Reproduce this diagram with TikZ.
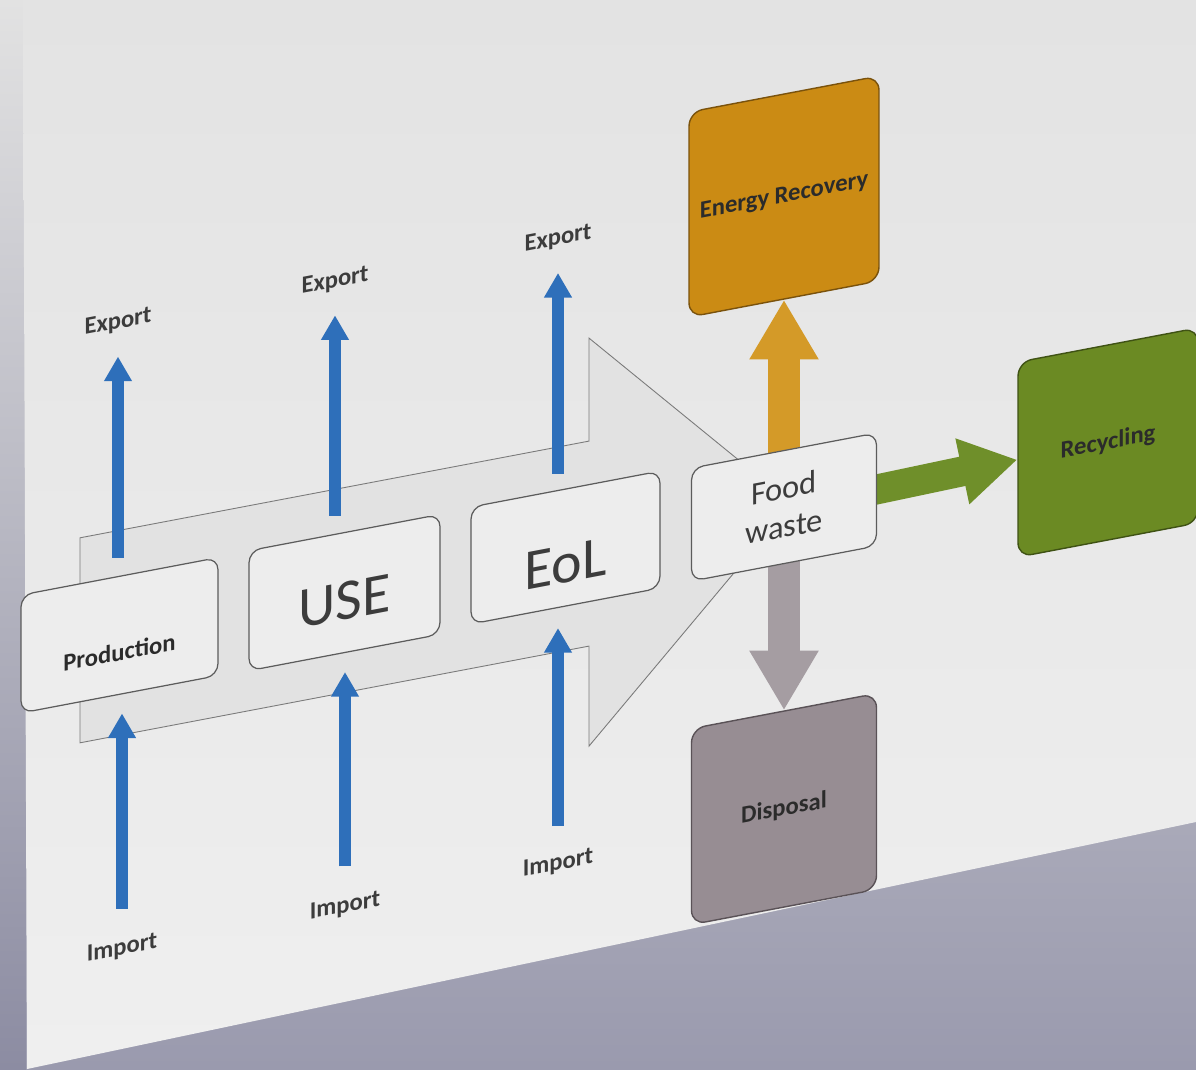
\documentclass[tikz,border=0pt]{standalone}
\usepackage{fontspec}
\setmainfont{Carlito}
\usetikzlibrary{arrows.meta}
\definecolor{bgtop}{HTML}{DCDCDC}
\definecolor{bgbot}{HTML}{9A9AAE}
\definecolor{striptop}{HTML}{E2E2E2}
\definecolor{stripmid}{HTML}{B6B6C2}
\definecolor{stripbot}{HTML}{8C8CA2}
\definecolor{slidetop}{HTML}{E3E3E3}
\definecolor{slidebot}{HTML}{EFEFEF}
\definecolor{bigfill}{HTML}{E2E2E2}
\definecolor{bigline}{HTML}{7A7A7A}
\definecolor{boxfill}{HTML}{EDEDED}
\definecolor{boxline}{HTML}{5C5C5C}
\definecolor{blueA}{HTML}{2E6FBA}
\definecolor{orangeB}{HTML}{CB8B14}
\definecolor{orangeL}{HTML}{7A520C}
\definecolor{orangeA}{HTML}{D49A28}
\definecolor{greenB}{HTML}{6B8A23}
\definecolor{greenL}{HTML}{3F5214}
\definecolor{greenA}{HTML}{6F8F2A}
\definecolor{greyB}{HTML}{978D93}
\definecolor{greyL}{HTML}{5A5257}
\definecolor{greyA}{HTML}{A59DA2}
\definecolor{txtdark}{HTML}{2B2B2B}
\definecolor{txtmid}{HTML}{3C3C3C}
\newcommand\lblfont{\fontsize{14}{16}\selectfont\bfseries}
\newcommand\bigfont{\fontsize{33}{36}\selectfont}
\pgfdeclarelayer{back}
\pgfdeclarelayer{mid}
\pgfsetlayers{back,mid,main}
\begin{document}
\begin{tikzpicture}[x=0.02cm,y=-0.02cm,
  box/.style={draw=boxline, fill=boxfill, rounded corners=0.24cm, line width=0.7pt,
    transform shape, inner sep=2pt, text=txtmid},
  cbox/.style={rounded corners=0.28cm, line width=0.8pt, transform shape,
    inner sep=2pt, font=\lblfont, text=txtdark},
  lbl/.style={transform shape, font=\lblfont, text=txtmid, inner sep=1pt},
  bluea/.style={draw=blueA, line width=6.3pt, -{Triangle[width=15pt,length=14pt]}},
  fatarr/.style={draw=#1, line width=18pt, shorten <=-0.2cm,
    -{Triangle[width=37pt,length=34pt]}}
]
\useasboundingbox (0,0) rectangle (1196,1069);
\begin{pgfonlayer}{back}
  \shade[top color=bgtop, bottom color=bgbot] (0,0) rectangle (1196,1069);
  \shade[top color=striptop, middle color=stripmid, bottom color=stripbot] (0,0) rectangle (26,1069);
  \shade[top color=slidetop, bottom color=slidebot]
    (23,0) -- (1196,0) -- (1196,822) -- (27,1069) -- cycle;
\end{pgfonlayer}
\begin{scope}[yslant=0.19]
  \begin{pgfonlayer}{back}
    \draw[fill=bigfill, draw=bigline, line width=0.5pt]
      (80,553) -- (589,553) -- (589,450) -- (792,654) -- (589,858)
      -- (589,758) -- (80,758) -- cycle;
  \end{pgfonlayer}
  % process boxes
  \node[box, minimum width=3.94cm, minimum height=2.36cm, font=\lblfont,
        text=txtdark, text height=29pt, text depth=0pt] (prod) at (119.5,658) {Production};
  \node[box, minimum width=3.82cm, minimum height=2.40cm, font=\bigfont,
        text height=31pt, text depth=0pt] (use) at (344.5,658) {USE};
  \node[box, minimum width=3.78cm, minimum height=2.34cm, font=\bigfont,
        text height=40pt, text depth=0pt] (eol) at (565.5,655) {EoL};
  \node[box, minimum width=3.70cm, minimum height=2.26cm, align=center,
        font=\fontsize{18.5}{22}\selectfont] (fw) at (784,656) {Food\\waste};
  % destination boxes
  \node[cbox, draw=orangeL, fill=orangeB, minimum width=3.80cm, minimum height=4.10cm]
        (er) at (784,345.5) {Energy Recovery};
  \node[cbox, draw=greenL, fill=greenB, minimum width=3.60cm, minimum height=3.90cm]
        (rec) at (1108,653) {Recycling};
  \node[cbox, draw=greyL, fill=greyB, minimum width=3.70cm, minimum height=3.92cm]
        (disp) at (784,958) {Disposal};
  % labels
  \node[lbl] (exp1) at (118,345) {Export};
  \node[lbl] (exp2) at (335,345) {Export};
  \node[lbl] (exp3) at (558,345) {Export};
  \node[lbl] (imp1) at (122,972) {Import};
  \node[lbl] (imp2) at (345,972) {Import};
  \node[lbl] (imp3) at (558,970) {Import};
  % connectors
  \begin{pgfonlayer}{mid}
    \draw[bluea, shorten <=0.36cm, shorten >=0.68cm] (prod.north -| exp1.center) -- (exp1.center);
    \draw[bluea, shorten <=0.36cm, shorten >=0.68cm] (use.north -| exp2.center) -- (exp2.center);
    \draw[bluea, shorten <=0.32cm, shorten >=0.68cm] (eol.north -| exp3.center) -- (exp3.center);
    \draw[bluea, shorten <=0.80cm, shorten >=0.38cm] (imp1.center) -- (prod.south -| imp1.center);
    \draw[bluea, shorten <=0.80cm, shorten >=0.38cm] (imp2.center) -- (use.south -| imp2.center);
    \draw[bluea, shorten <=0.76cm, shorten >=0.40cm] (imp3.center) -- (eol.south -| imp3.center);
    \draw[fatarr=orangeA] (fw.north) -- (er.south);
    \draw[fatarr=greenA, line width=17pt, -{Triangle[width=36pt,length=32pt]}] (fw.east) -- (rec.west);
    \draw[fatarr=greyA] (fw.south) -- (disp.north);
  \end{pgfonlayer}
\end{scope}
\end{tikzpicture}
\end{document}
